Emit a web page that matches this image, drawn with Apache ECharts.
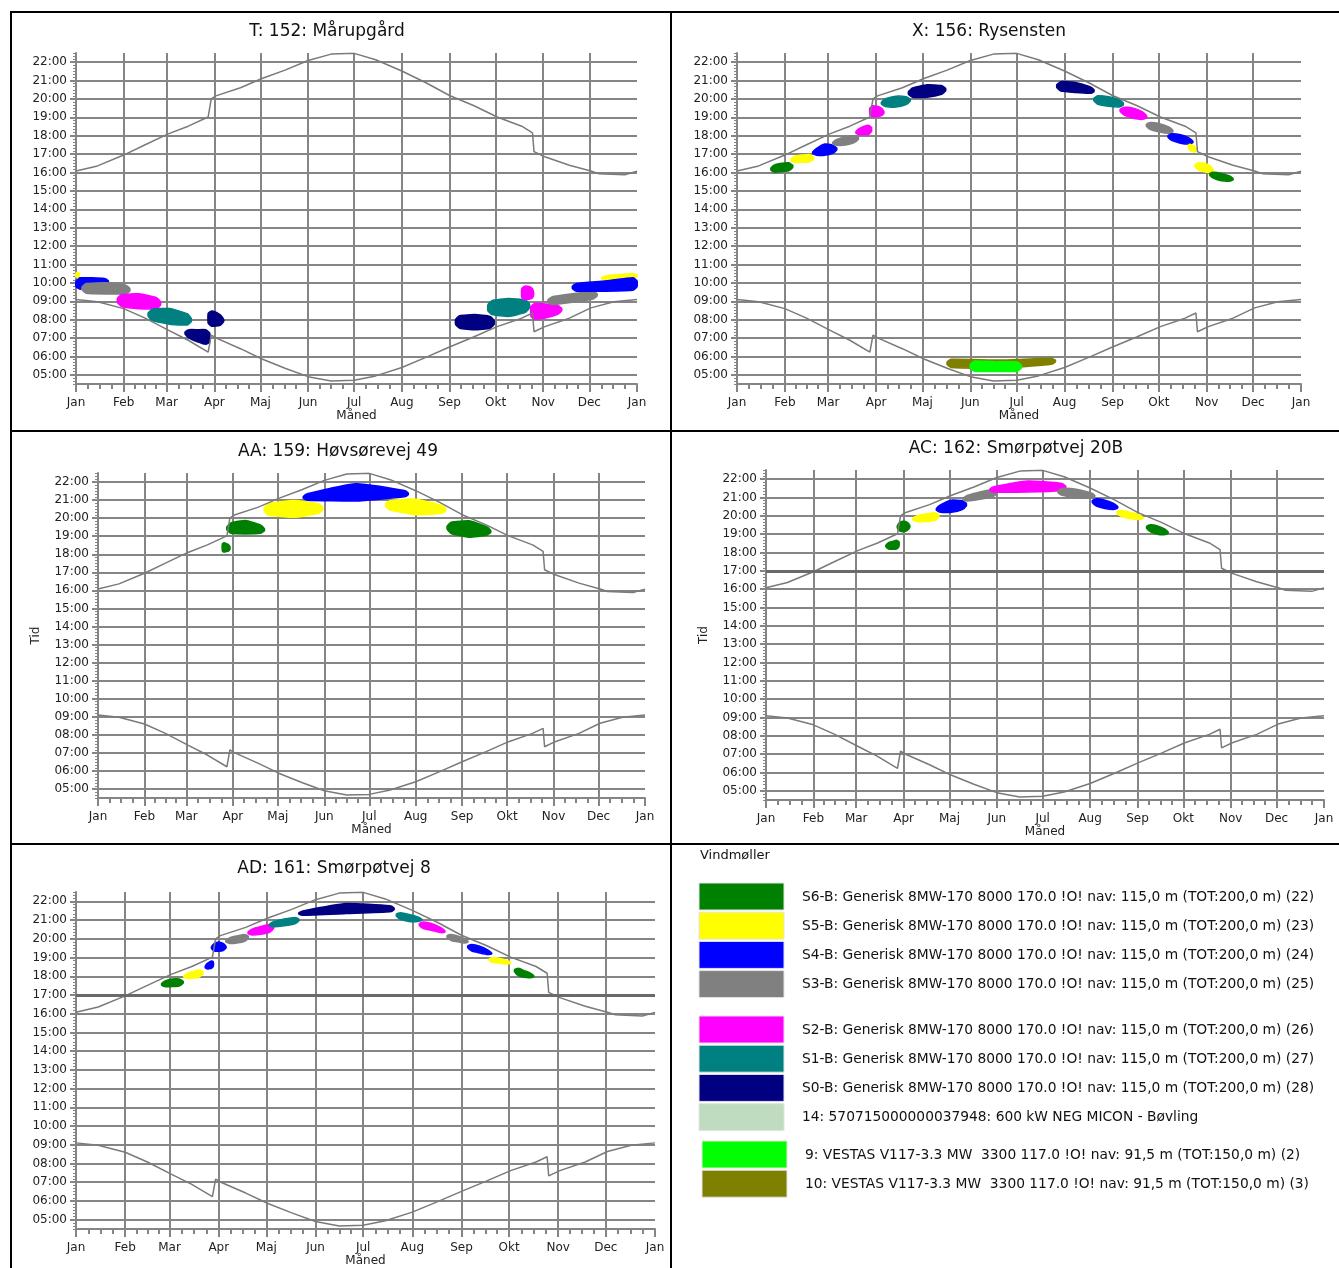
<!DOCTYPE html>
<html><head><meta charset="utf-8">
<script src="https://cdn.jsdelivr.net/npm/echarts@6/dist/echarts.min.js"></script>
<style>html,body{margin:0;padding:0;background:#fff}#c{width:1339px;height:1268px}</style>
</head><body><div id="c"></div>
<script>
// ---------- DATA ----------
const monthLabels = ['Jan','Feb','Mar','Apr','Maj','Jun','Jul','Aug','Sep','Okt','Nov','Dec','Jan'];
const monthStartDays = [0,31,59,90,120,151,181,212,243,273,304,334,365];
const hourTicks = [5,6,7,8,9,10,11,12,13,14,15,16,17,18,19,20,21,22];

const sunsetDays  = [0,14,31,45,60,73,86,88,91,107,121,136,151,166,181,195,212,228,243,259,274,290,297,298,305,321,335,340,357,365];
const sunsetHours = [16.08,16.36,16.95,17.51,18.1,18.52,19.02,20.0,20.17,20.61,21.11,21.57,22.09,22.44,22.48,22.13,21.52,20.87,20.19,19.63,19.02,18.52,18.16,17.14,16.86,16.4,16.08,15.94,15.88,16.07];
const sunriseDays  = [0,14,31,45,60,73,86,88,91,107,121,136,151,166,181,195,212,228,243,259,274,290,297,298,305,321,335,350,365];
const sunriseHours = [9.1,8.97,8.6,8.08,7.43,6.88,6.23,7.16,7.01,6.42,5.86,5.36,4.9,4.66,4.7,4.94,5.4,5.96,6.51,7.07,7.62,8.08,8.36,7.34,7.62,8.08,8.64,8.97,9.1];

const turbineNames = [
  'S6-B: Generisk 8MW-170 8000 170.0 !O! nav: 115,0 m (TOT:200,0 m) (22)',
  'S5-B: Generisk 8MW-170 8000 170.0 !O! nav: 115,0 m (TOT:200,0 m) (23)',
  'S4-B: Generisk 8MW-170 8000 170.0 !O! nav: 115,0 m (TOT:200,0 m) (24)',
  'S3-B: Generisk 8MW-170 8000 170.0 !O! nav: 115,0 m (TOT:200,0 m) (25)',
  'S2-B: Generisk 8MW-170 8000 170.0 !O! nav: 115,0 m (TOT:200,0 m) (26)',
  'S1-B: Generisk 8MW-170 8000 170.0 !O! nav: 115,0 m (TOT:200,0 m) (27)',
  'S0-B: Generisk 8MW-170 8000 170.0 !O! nav: 115,0 m (TOT:200,0 m) (28)',
  '14: 570715000000037948: 600 kW NEG MICON - Bøvling',
  '9: VESTAS V117-3.3 MW  3300 117.0 !O! nav: 91,5 m (TOT:150,0 m) (2)',
  '10: VESTAS V117-3.3 MW  3300 117.0 !O! nav: 91,5 m (TOT:150,0 m) (3)'
];
const turbineColors = ['#008000','#FFFF00','#0000FF','#808080','#FF00FF','#008080','#000080','#C0DCC0','#00FF00','#808000'];
const legendTitle = 'Vindmøller';

const panelTitles = ['T: 152: Mårupgård','X: 156: Rysensten','AA: 159: Høvsørevej 49','AC: 162: Smørpøtvej 20B','AD: 161: Smørpøtvej 8'];
const thresholdHour = 17;

// blob: [turbine, dayStart, dayEnd, loStart, hiStart, loMid, hiMid, loEnd, hiEnd]
const blobsT152 = [
  [1,0,2,10.3,10.55,10.3,10.55,10.3,10.55],
  [2,0,21,9.6,10.27,9.85,10.27,9.92,10.22],
  [3,4,35,9.45,9.95,9.4,10.0,9.4,9.85],
  [4,27,55,8.75,9.35,8.6,9.4,8.6,9.15],
  [5,47,75,8.0,8.55,7.75,8.6,7.7,8.25],
  [6,71,87,7.1,7.45,6.8,7.45,6.6,7.45],
  [6,86,96,7.65,8.5,7.65,8.4,7.75,8.15],
  [6,247,272,7.55,8.2,7.45,8.27,7.55,8.15],
  [5,268,295,8.3,9.0,8.18,9.15,8.45,9.05],
  [4,290,297.5,9.1,9.8,9.1,9.82,9.15,9.7],
  [4,296,316,8.0,8.9,8.1,8.85,8.35,8.75],
  [3,307,339,8.8,9.2,8.95,9.4,9.15,9.55],
  [1,342,365,10.15,10.35,10.2,10.45,10.25,10.5],
  [2,323,365,9.55,9.95,9.55,10.1,9.6,10.3]
];
const blobsX156 = [
  [0,22,36,16.0,16.38,16.05,16.5,16.12,16.54],
  [1,35,49.5,16.54,16.85,16.56,16.95,16.6,16.99],
  [2,49,64.5,16.95,17.2,16.94,17.55,17.1,17.45],
  [3,62,78.5,17.48,17.72,17.5,17.95,17.7,18.02],
  [4,77,87,18.06,18.3,18.06,18.5,18.06,18.62],
  [4,86,95,19.02,19.65,19.05,19.6,19.1,19.45],
  [5,93.5,112,19.6,19.95,19.56,20.15,19.75,20.1],
  [6,111,135,20.1,20.55,20.1,20.77,20.3,20.72],
  [9,136,206,5.4,5.85,5.35,5.8,5.6,5.9],
  [8,151,184,5.2,5.75,5.18,5.7,5.2,5.7],
  [6,207,231,20.45,20.95,20.35,20.9,20.3,20.6],
  [5,231,250,19.75,20.19,19.6,20.12,19.56,19.9],
  [4,248,265,19.2,19.56,18.95,19.5,18.87,19.2],
  [3,265,282,18.4,18.74,18.2,18.65,18.11,18.4],
  [2,279,295,17.8,18.13,17.6,18.05,17.53,17.8],
  [1,292,297,17.3,17.55,17.15,17.5,17.1,17.4],
  [1,296.5,308,16.2,16.55,16.05,16.5,15.98,16.3],
  [0,306,321,15.75,16.05,15.55,15.95,15.52,15.75]
];
const blobsAA159 = [
  [0,83,88,18.1,18.65,18.15,18.6,18.2,18.5],
  [0,86,111,19.17,19.7,19.13,19.87,19.17,19.55],
  [1,111,150,20.2,20.75,20.05,20.98,20.3,20.75],
  [2,137,207,21.0,21.3,20.95,21.9,21.2,21.5],
  [1,192,232,20.5,20.95,20.19,21.05,20.28,20.65],
  [0,233,262,19.2,19.75,18.95,19.85,19.08,19.45]
];
const blobsAC162 = [
  [0,78.5,87,18.2,18.5,18.18,18.6,18.2,18.72],
  [0,86,94,19.2,19.6,19.14,19.7,19.25,19.6],
  [1,96,113,19.7,19.95,19.69,20.1,19.8,20.2],
  [2,111.5,131,20.2,20.5,20.2,20.85,20.4,20.82],
  [3,129,151,20.78,21.05,20.9,21.3,21.1,21.45],
  [4,146.5,196,21.3,21.55,21.3,21.9,21.4,21.75],
  [3,191,215,21.15,21.5,21.0,21.45,20.96,21.2],
  [2,213.5,230,20.6,20.96,20.4,20.85,20.33,20.6],
  [1,229.5,246.5,20.05,20.33,19.85,20.2,19.78,20.0],
  [0,249,263,19.2,19.54,19.0,19.45,18.96,19.2]
];
const blobsAD161 = [
  [0,54,67.5,17.43,17.7,17.45,17.85,17.5,17.85],
  [1,68,80,17.88,18.1,17.9,18.25,18.0,18.38],
  [2,81.5,86.5,18.4,18.6,18.4,18.75,18.45,18.86],
  [2,85.5,94.5,19.35,19.7,19.34,19.83,19.4,19.7],
  [3,94.5,108.5,19.74,20.0,19.78,20.15,19.9,20.28],
  [4,108.5,124.5,20.19,20.45,20.25,20.65,20.4,20.81],
  [5,122,140.5,20.63,20.85,20.7,21.05,20.85,21.17],
  [6,140.5,200.5,21.25,21.45,21.35,21.88,21.45,21.75],
  [5,202,218,21.1,21.43,20.93,21.3,20.93,21.1],
  [4,216.5,232.5,20.6,20.93,20.45,20.8,20.28,20.5],
  [3,234,247,19.95,20.28,19.85,20.15,19.74,19.95],
  [2,247,262,19.4,19.74,19.25,19.6,19.12,19.3],
  [1,260.5,274,18.75,19.03,18.7,18.95,18.63,18.8],
  [0,276.5,288.5,18.1,18.5,17.95,18.3,17.91,18.1]
];

// ---------- LAYOUT ----------
const panels = [
  {title: panelTitles[0], blobs: blobsT152, grid:{left:76, top:53, width:561, height:331}, tx:322, ty:18, tid:false, thr:false},
  {title: panelTitles[1], blobs: blobsX156, grid:{left:737, top:53, width:564, height:331}, tx:984, ty:18, tid:false, thr:false},
  {title: panelTitles[2], blobs: blobsAA159, grid:{left:98, top:473, width:547, height:325}, tx:333, ty:438, tid:true, thr:false},
  {title: panelTitles[3], blobs: blobsAC162, grid:{left:766, top:470, width:558, height:330}, tx:1011, ty:435, tid:true, thr:true},
  {title: panelTitles[4], blobs: blobsAD161, grid:{left:76, top:892, width:579, height:337}, tx:329, ty:855, tid:false, thr:true}
];

const GRID = '#858585';
const FONT = '"DejaVu Sans", sans-serif';
const minorDays = [];
for (let m = 0; m < 12; m++) {
  const a = monthStartDays[m], b = monthStartDays[m+1];
  for (let q = 1; q < 4; q++) minorDays.push(a + (b - a) * q / 4);
}
const minorHours = [];
for (let k = 0; k <= 108; k++) minorHours.push(4.5 + k / 6);
const pad = v => (v < 10 ? '0' : '') + v;
const zip = (xs, ys) => xs.map((x, i) => [x, ys[i]]);

function renderBlob(params, api) {
  const t = api.value(0), d0 = api.value(1), d1 = api.value(2);
  const dm = (d0 + d1) / 2;
  const A0 = api.coord([d0, api.value(3)]), B0 = api.coord([d0, api.value(4)]);
  const AM = api.coord([dm, api.value(5)]), BM = api.coord([dm, api.value(6)]);
  const A1 = api.coord([d1, api.value(7)]), B1 = api.coord([d1, api.value(8)]);
  const w = A1[0] - A0[0];
  const r0 = Math.min(3.5, w * 0.2, (A0[1] - B0[1]) * 0.35);
  const r1 = Math.min(3.5, w * 0.2, (A1[1] - B1[1]) * 0.35);
  const rx = Math.min(4, w * 0.2);
  const pts = [
    [A0[0], A0[1] - r0], [B0[0], B0[1] + r0],
    [B0[0] + rx, B0[1] + (BM[1] - B0[1]) * (rx / (w / 2))], [BM[0], BM[1]],
    [B1[0] - rx, B1[1] + (BM[1] - B1[1]) * (rx / (w / 2))], [B1[0], B1[1] + r1],
    [A1[0], A1[1] - r1], [A1[0] - rx, A1[1] + (AM[1] - A1[1]) * (rx / (w / 2))],
    [AM[0], AM[1]], [A0[0] + rx, A0[1] + (AM[1] - A0[1]) * (rx / (w / 2))]
  ];
  return {type: 'polygon', shape: {points: pts, smooth: 0.15},
    style: {fill: turbineColors[t], stroke: turbineColors[t], lineWidth: 1.6, lineJoin: 'round'}};
}

const option = {
  animation: false,
  backgroundColor: '#fff',
  title: [], grid: [], xAxis: [], yAxis: [], series: [], graphic: []
};

panels.forEach((p, i) => {
  option.title.push({text: p.title, left: p.tx, top: p.ty, textAlign: 'center',
    textStyle: {fontFamily: FONT, fontSize: 17, fontWeight: 'normal', color: '#111'}});
  option.grid.push(Object.assign({show: false}, p.grid));
  option.xAxis.push({
    gridIndex: i, type: 'value', min: 0, max: 365, position: 'bottom',
    axisLine: {show: true, onZero: false, lineStyle: {color: GRID, width: 2}},
    axisTick: {show: true, customValues: monthStartDays.slice(0, 12), length: 8, lineStyle: {color: GRID, width: 2}},
    axisLabel: {customValues: monthStartDays, formatter: v => monthLabels[monthStartDays.indexOf(v)],
      fontFamily: FONT, fontSize: 12, color: '#222', margin: 13},
    splitLine: {show: true, lineStyle: {color: GRID, width: 2}},
    name: 'Måned', nameLocation: 'middle', nameGap: 26,
    nameTextStyle: {fontFamily: FONT, fontSize: 12, color: '#222'}
  });
  option.xAxis.push({
    gridIndex: i, type: 'value', min: 0, max: 365, position: 'bottom',
    axisLine: {show: false, onZero: false},
    axisTick: {show: true, customValues: minorDays, length: 5, lineStyle: {color: GRID, width: 2}},
    axisLabel: {show: false}, splitLine: {show: false}
  });
  option.xAxis.push({
    gridIndex: i, type: 'value', min: 0, max: 365, position: 'bottom',
    axisLine: {show: false, onZero: false},
    axisTick: {show: true, customValues: [365], length: 8, lineStyle: {color: GRID, width: 2}},
    axisLabel: {show: false}, splitLine: {show: false}
  });
  option.yAxis.push({
    gridIndex: i, type: 'value', min: 4.5, max: 22.5, position: 'left',
    axisLine: {show: true, onZero: false, lineStyle: {color: GRID, width: 2}},
    axisTick: {show: true, customValues: hourTicks, length: 6, lineStyle: {color: GRID, width: 2}},
    axisLabel: {customValues: hourTicks, formatter: v => pad(v) + ':00', fontFamily: FONT, fontSize: 12, color: '#222', margin: 9},
    splitLine: {show: true, lineStyle: {color: GRID, width: 2}},
    name: p.tid ? 'Tid' : '', nameLocation: 'middle', nameGap: 56, nameRotate: 90,
    nameTextStyle: {fontFamily: FONT, fontSize: 12, color: '#222'}
  });
  option.yAxis.push({
    gridIndex: i, type: 'value', min: 4.5, max: 22.5, position: 'left',
    axisLine: {show: false, onZero: false},
    axisTick: {show: true, customValues: minorHours, length: 3, lineStyle: {color: GRID, width: 1}},
    axisLabel: {show: false}, splitLine: {show: false}
  });
  option.series.push({
    type: 'custom', xAxisIndex: 3 * i, yAxisIndex: 2 * i, renderItem: renderBlob,
    data: p.blobs, encode: {x: 1, y: 3}, silent: true, z: 3
  });
  const sunset = {
    type: 'line', xAxisIndex: 3 * i, yAxisIndex: 2 * i, data: zip(sunsetDays, sunsetHours),
    symbol: 'none', lineStyle: {color: '#7a7a7a', width: 1.5}, silent: true, z: 4
  };
  if (p.thr) {
    sunset.markLine = {silent: true, symbol: 'none', label: {show: false},
      lineStyle: {color: '#6a6a6a', width: 3, type: 'solid'}, data: [{yAxis: thresholdHour}]};
  }
  option.series.push(sunset);
  option.series.push({
    type: 'line', xAxisIndex: 3 * i, yAxisIndex: 2 * i, data: zip(sunriseDays, sunriseHours),
    symbol: 'none', lineStyle: {color: '#7a7a7a', width: 1.5}, silent: true, z: 4
  });
});

// legend panel
const LFONT = '13.8px "DejaVu Sans", sans-serif';
option.graphic.push({type: 'text', x: 700, y: 856,
  style: {text: legendTitle, font: '13px "DejaVu Sans", sans-serif', fill: '#111', verticalAlign: 'middle'}});
const legendGroups = [[0,1,2,3],[4,5,6,7],[8,9]];
const groupTop = [883, 1016, 1141];
const groupX = [699, 699, 702];
legendGroups.forEach((g, gi) => {
  g.forEach((ti, k) => {
    const y = groupTop[gi] + k * 29.2;
    option.graphic.push({type: 'rect', shape: {x: groupX[gi], y: y, width: 85, height: 27},
      style: {fill: turbineColors[ti], stroke: '#e4e4e4', lineWidth: 1}});
    option.graphic.push({type: 'text', x: groupX[gi] + 103, y: y + 14,
      style: {text: turbineNames[ti], font: LFONT, fill: '#111', verticalAlign: 'middle'}});
  });
});
// panel borders
[[10,12,1339,12],[10,431,1339,431],[10,844,1339,844],[11,12,11,1268],[671,12,671,1268]].forEach(l => {
  option.graphic.push({type: 'line', shape: {x1: l[0], y1: l[1], x2: l[2], y2: l[3]},
    style: {stroke: '#000', lineWidth: 2}, z: 100});
});

const chart = echarts.init(document.getElementById('c'), null, {width: 1339, height: 1268});
chart.setOption(option);
</script></body></html>
